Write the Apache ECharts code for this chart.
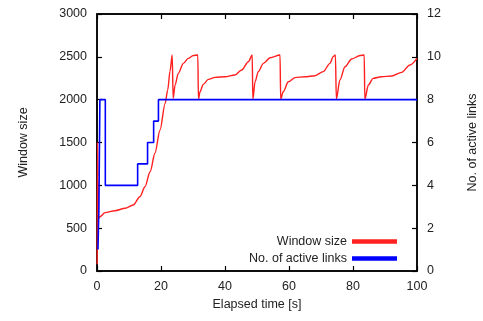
<!DOCTYPE html>
<html><head><meta charset="utf-8">
<script src="https://cdn.jsdelivr.net/npm/echarts@6/dist/echarts.min.js"></script>
<style>html,body{margin:0;padding:0;background:#fff}#c{width:483px;height:321px}</style>
</head><body><div id="c"></div>
<script>
var xTicks = [0, 20, 40, 60, 80, 100];
var windowSize = [
  [0.05, 80], [0.15, 1500], [0.3, 1100], [0.5, 610], [0.9, 634], [2.5, 681], [5.6, 704], [8.8, 732], [11.3, 770],
  [13.4, 867], [15.0, 984], [16.6, 1159], [18.1, 1374], [19.7, 1646], [21.3, 1957], [22.1, 2113], [22.8, 2330], [23.5, 2521],
  [23.8, 2016], [24.4, 2171], [25.4, 2307], [27.0, 2424], [28.5, 2482], [30.1, 2515], [31.5, 2521],
  [31.7, 2005], [32.2, 2093], [33.2, 2179], [34.8, 2237], [36.9, 2260], [40.0, 2268], [43.1, 2288], [45.2, 2346], [47.3, 2443], [48.5, 2521],
  [48.7, 2005], [49.4, 2210], [50.4, 2327], [52.0, 2424], [54.1, 2490], [57.2, 2521],
  [57.4, 2005], [58.2, 2093], [59.8, 2210], [61.9, 2257], [65.0, 2268], [68.1, 2280], [70.7, 2327], [72.8, 2424], [73.8, 2502], [74.5, 2521],
  [74.8, 2005], [75.9, 2229], [77.5, 2385], [79.6, 2475], [82.2, 2515], [83.5, 2521],
  [83.7, 2005], [84.8, 2171], [86.3, 2249], [88.9, 2268], [92.1, 2276], [95.2, 2319], [97.8, 2405], [100, 2482]
];
var activeLinks = [
  [0.3, 1], [0.6, 3], [0.9, 8], [2.6, 4], [12.7, 5], [15.8, 6], [17.7, 7], [19.2, 8], [100, 8]
];
var font = 'Liberation Sans, Arial, sans-serif';
var txt = '#222';
var fmt = function (v) { return String(v); };
function axLine() { return {show: true, onZero: false, lineStyle: {color: '#000000', width: 1.5}}; }
function axTick() { return {show: true, inside: true, length: 5, lineStyle: {color: '#000000', width: 1.2}}; }
var chart = echarts.init(document.getElementById('c'));
chart.setOption({
  animation: false,
  grid: {left: 97, right: 66, top: 14, bottom: 50, outerBoundsMode: 'none',
         show: true, borderColor: '#000000', borderWidth: 1.5},
  legend: {
    orient: 'vertical', right: 81, bottom: 51, align: 'right',
    itemWidth: 45, itemHeight: 8, itemGap: 4,
    icon: 'path://M0,0L10,0L10,1L0,1Z',
    textStyle: {fontFamily: font, fontSize: 12.5, color: txt},
    data: ['Window size', 'No. of active links']
  },
  xAxis: [{
    type: 'value', min: 0, max: 100, interval: 20, position: 'bottom',
    name: 'Elapsed time [s]', nameLocation: 'middle', nameGap: 27,
    nameTextStyle: {fontSize: 12.5, color: txt, fontFamily: font},
    axisLine: axLine(), axisTick: axTick(),
    axisLabel: {color: txt, fontSize: 12.5, margin: 9, fontFamily: font, formatter: fmt},
    splitLine: {show: false}
  }, {
    type: 'value', position: 'top', min: 0, max: 100, interval: 20,
    axisLine: axLine(), axisTick: axTick(),
    axisLabel: {show: false}, splitLine: {show: false}
  }],
  yAxis: [{
    type: 'value', min: 0, max: 3000, interval: 500, position: 'left',
    name: 'Window size', nameLocation: 'middle', nameGap: 67,
    nameTextStyle: {fontSize: 12.5, color: txt, fontFamily: font},
    axisLine: axLine(), axisTick: axTick(),
    axisLabel: {color: txt, fontSize: 12.5, margin: 10, fontFamily: font, formatter: fmt},
    splitLine: {show: false}
  }, {
    type: 'value', min: 0, max: 12, interval: 2, position: 'right',
    name: 'No. of active links', nameLocation: 'middle', nameGap: 49,
    nameTextStyle: {fontSize: 12.5, color: txt, fontFamily: font},
    axisLine: axLine(), axisTick: axTick(),
    axisLabel: {color: txt, fontSize: 12.5, margin: 10, fontFamily: font, formatter: fmt},
    splitLine: {show: false}
  }],
  series: [{
    name: 'Window size', type: 'line', xAxisIndex: 0, yAxisIndex: 0,
    data: windowSize, showSymbol: false, smooth: 0.3, smoothMonotone: 'x',
    color: '#ff2020', lineStyle: {color: '#ff2020', width: 1.4}
  }, {
    name: 'No. of active links', type: 'line', xAxisIndex: 0, yAxisIndex: 1,
    data: activeLinks, showSymbol: false, step: 'end',
    color: '#0000ff', lineStyle: {color: '#0000ff', width: 1.6}
  }]
});
</script></body></html>
